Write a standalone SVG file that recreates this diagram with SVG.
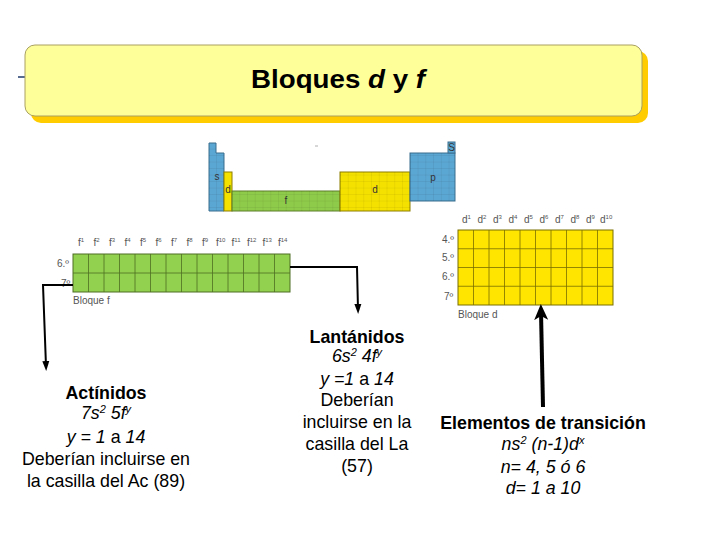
<svg xmlns="http://www.w3.org/2000/svg" width="720" height="540" viewBox="0 0 720 540">
<style>
.lbl{font-family:"Liberation Sans",Arial,sans-serif;font-size:10px;fill:#555}
.sup{font-size:6px}
.txt{font-family:"Liberation Sans",Arial,sans-serif;font-size:17.8px;fill:#000;text-anchor:middle}
.b{font-weight:bold}
.i{font-style:italic}
.con{fill:none;stroke:#000;stroke-width:2}
.mini{font-family:"Liberation Sans",Arial,sans-serif;font-size:10px;fill:#333;text-anchor:middle}
</style>
<defs>
<marker id="ah" markerWidth="10" markerHeight="10" refX="5" refY="5" orient="auto" markerUnits="userSpaceOnUse">
<path d="M0,1.5 L10,5 L0,8.5 Z" fill="#000"/>
</marker>
<marker id="ahBig" markerWidth="16" markerHeight="16" refX="8" refY="8" orient="auto" markerUnits="userSpaceOnUse">
<path d="M0,1 L16,8 L0,15 L4,8 Z" fill="#000"/>
</marker>
<pattern id="gridMini" width="7.75" height="6.5" patternUnits="userSpaceOnUse">
<path d="M7.75,0 V6.5 M0,6.5 H7.75" fill="none" stroke="#000" stroke-opacity="0.15" stroke-width="0.7"/>
</pattern>
</defs>

<g id="title">
<line x1="18" y1="77" x2="26" y2="77" stroke="#1F3A6B" stroke-width="1.5"/>
<rect x="31" y="51" width="617" height="72" rx="10" fill="#FFCC00"/>
<rect x="25" y="45" width="617" height="71" rx="10" fill="#FFFF99" stroke="#A8A060" stroke-width="1"/>
<text x="338" y="88" font-family="Liberation Sans,Arial,sans-serif" font-size="26" font-weight="bold" text-anchor="middle" textLength="174" lengthAdjust="spacingAndGlyphs">Bloques <tspan font-style="italic">d</tspan> y <tspan font-style="italic">f</tspan></text>
</g>

<g id="mini-table">
<path d="M209,143 H216 V153 H224 V211 H209 Z" fill="#5BA7D3" stroke="#3B6E8F"/>
<path d="M209,143 H216 V153 H224 V211 H209 Z" fill="url(#gridMini)"/>
<rect x="224" y="172" width="8" height="39" fill="#F5E100" stroke="#8C7F00"/>
<rect x="232" y="191" width="108" height="20" fill="#8FCB4A" stroke="#5F7F2A"/>
<rect x="232" y="191" width="108" height="20" fill="url(#gridMini)"/>
<rect x="340" y="172" width="70" height="39" fill="#F5E100" stroke="#8C7F00"/>
<rect x="340" y="172" width="70" height="39" fill="url(#gridMini)"/>
<rect x="410" y="153" width="45" height="48" fill="#5BA7D3" stroke="#3B6E8F"/>
<rect x="410" y="153" width="45" height="48" fill="url(#gridMini)"/>
<rect x="448" y="142" width="7" height="11" fill="#5BA7D3" stroke="#3B6E8F"/>
<line x1="315" y1="146" x2="318" y2="146" stroke="#999" stroke-width="0.8"/>
<text class="mini" x="217" y="180">s</text>
<text class="mini" x="228" y="193">d</text>
<text class="mini" x="286" y="204">f</text>
<text class="mini" x="375" y="193">d</text>
<text class="mini" x="433" y="181">p</text>
<text class="mini" x="451.5" y="151" font-size="9">S</text>
</g>

<g id="f-block">
<rect x="73" y="254" width="217" height="38" fill="#92D050" stroke="#4E6E22" stroke-width="1"/>
<g stroke="#4E6E22" stroke-width="0.8">
<line x1="73" y1="273" x2="290" y2="273"/>
<line x1="88.5" y1="254" x2="88.5" y2="292"/><line x1="104" y1="254" x2="104" y2="292"/>
<line x1="119.5" y1="254" x2="119.5" y2="292"/><line x1="135" y1="254" x2="135" y2="292"/>
<line x1="150.5" y1="254" x2="150.5" y2="292"/><line x1="166" y1="254" x2="166" y2="292"/>
<line x1="181.5" y1="254" x2="181.5" y2="292"/><line x1="197" y1="254" x2="197" y2="292"/>
<line x1="212.5" y1="254" x2="212.5" y2="292"/><line x1="228" y1="254" x2="228" y2="292"/>
<line x1="243.5" y1="254" x2="243.5" y2="292"/><line x1="259" y1="254" x2="259" y2="292"/>
<line x1="274.5" y1="254" x2="274.5" y2="292"/>
</g>
<text class="lbl" x="78" y="246">f<tspan class="sup" dy="-4">1</tspan></text>
<text class="lbl" x="93.5" y="246">f<tspan class="sup" dy="-4">2</tspan></text>
<text class="lbl" x="109" y="246">f<tspan class="sup" dy="-4">3</tspan></text>
<text class="lbl" x="124.5" y="246">f<tspan class="sup" dy="-4">4</tspan></text>
<text class="lbl" x="140" y="246">f<tspan class="sup" dy="-4">5</tspan></text>
<text class="lbl" x="155.5" y="246">f<tspan class="sup" dy="-4">6</tspan></text>
<text class="lbl" x="171" y="246">f<tspan class="sup" dy="-4">7</tspan></text>
<text class="lbl" x="186.5" y="246">f<tspan class="sup" dy="-4">8</tspan></text>
<text class="lbl" x="202" y="246">f<tspan class="sup" dy="-4">9</tspan></text>
<text class="lbl" x="216" y="246">f<tspan class="sup" dy="-4">10</tspan></text>
<text class="lbl" x="231.5" y="246">f<tspan class="sup" dy="-4">11</tspan></text>
<text class="lbl" x="247" y="246">f<tspan class="sup" dy="-4">12</tspan></text>
<text class="lbl" x="262.5" y="246">f<tspan class="sup" dy="-4">13</tspan></text>
<text class="lbl" x="278" y="246">f<tspan class="sup" dy="-4">14</tspan></text>
<text class="lbl" x="57" y="267">6.º</text>
<text class="lbl" x="61" y="287">7º</text>
<text class="lbl" x="73" y="304">Bloque f</text>
</g>

<g id="d-block">
<rect x="458" y="230" width="155" height="75" fill="#FFE500" stroke="#7A6E00" stroke-width="1"/>
<g stroke="#7A6E00" stroke-width="0.8">
<line x1="458" y1="248.75" x2="613" y2="248.75"/><line x1="458" y1="267.5" x2="613" y2="267.5"/><line x1="458" y1="286.25" x2="613" y2="286.25"/>
<line x1="473.5" y1="230" x2="473.5" y2="305"/><line x1="489" y1="230" x2="489" y2="305"/>
<line x1="504.5" y1="230" x2="504.5" y2="305"/><line x1="520" y1="230" x2="520" y2="305"/>
<line x1="535.5" y1="230" x2="535.5" y2="305"/><line x1="551" y1="230" x2="551" y2="305"/>
<line x1="566.5" y1="230" x2="566.5" y2="305"/><line x1="582" y1="230" x2="582" y2="305"/>
<line x1="597.5" y1="230" x2="597.5" y2="305"/>
</g>
<text class="lbl" x="462" y="223">d<tspan class="sup" dy="-4">1</tspan></text>
<text class="lbl" x="477.5" y="223">d<tspan class="sup" dy="-4">2</tspan></text>
<text class="lbl" x="493" y="223">d<tspan class="sup" dy="-4">3</tspan></text>
<text class="lbl" x="508.5" y="223">d<tspan class="sup" dy="-4">4</tspan></text>
<text class="lbl" x="524" y="223">d<tspan class="sup" dy="-4">5</tspan></text>
<text class="lbl" x="539.5" y="223">d<tspan class="sup" dy="-4">6</tspan></text>
<text class="lbl" x="555" y="223">d<tspan class="sup" dy="-4">7</tspan></text>
<text class="lbl" x="570.5" y="223">d<tspan class="sup" dy="-4">8</tspan></text>
<text class="lbl" x="586" y="223">d<tspan class="sup" dy="-4">9</tspan></text>
<text class="lbl" x="600" y="223">d<tspan class="sup" dy="-4">10</tspan></text>
<text class="lbl" x="442" y="243">4.º</text>
<text class="lbl" x="442" y="261">5.º</text>
<text class="lbl" x="442" y="280">6.º</text>
<text class="lbl" x="444" y="300">7º</text>
<text class="lbl" x="458" y="318">Bloque d</text>
</g>

<g id="connectors">
<polyline class="con" points="73,285 43,285 46,366" marker-end="url(#ah)"/>
<polyline class="con" points="290,267 357,267 358,309" marker-end="url(#ah)"/>
<line x1="543" y1="407" x2="541" y2="312" stroke="#000" stroke-width="4" marker-end="url(#ahBig)"/>
</g>

<g id="actinidos">
<text class="txt b" x="106" y="399">Actínidos</text>
<text class="txt i" x="106" y="419">7s<tspan font-size="11" dy="-6">2</tspan><tspan dy="6"> 5f</tspan><tspan font-size="11" dy="-6">y</tspan></text>
<text class="txt" x="106" y="443"><tspan class="i">y = 1</tspan> a <tspan class="i">14</tspan></text>
<text class="txt" x="106" y="465">Deberían incluirse en</text>
<text class="txt" x="106" y="487">la casilla del Ac (89)</text>
</g>

<g id="lantanidos">
<text class="txt b" x="357" y="343">Lantánidos</text>
<text class="txt i" x="357" y="362">6s<tspan font-size="11" dy="-6">2</tspan><tspan dy="6"> 4f</tspan><tspan font-size="11" dy="-6">y</tspan></text>
<text class="txt" x="357" y="385"><tspan class="i">y =1</tspan> a <tspan class="i">14</tspan></text>
<text class="txt" x="357" y="406">Deberían</text>
<text class="txt" x="357" y="428">incluirse en la</text>
<text class="txt" x="357" y="450">casilla del La</text>
<text class="txt" x="357" y="472">(57)</text>
</g>

<g id="transicion">
<text class="txt b" x="543" y="429">Elementos de transición</text>
<text class="txt i" x="543" y="450">ns<tspan font-size="11" dy="-6">2</tspan><tspan dy="6"> (n-1)d</tspan><tspan font-size="11" dy="-6">x</tspan></text>
<text class="txt i" x="543" y="473">n= 4, 5 ó 6</text>
<text class="txt i" x="543" y="494">d= 1 a 10</text>
</g>
</svg>
